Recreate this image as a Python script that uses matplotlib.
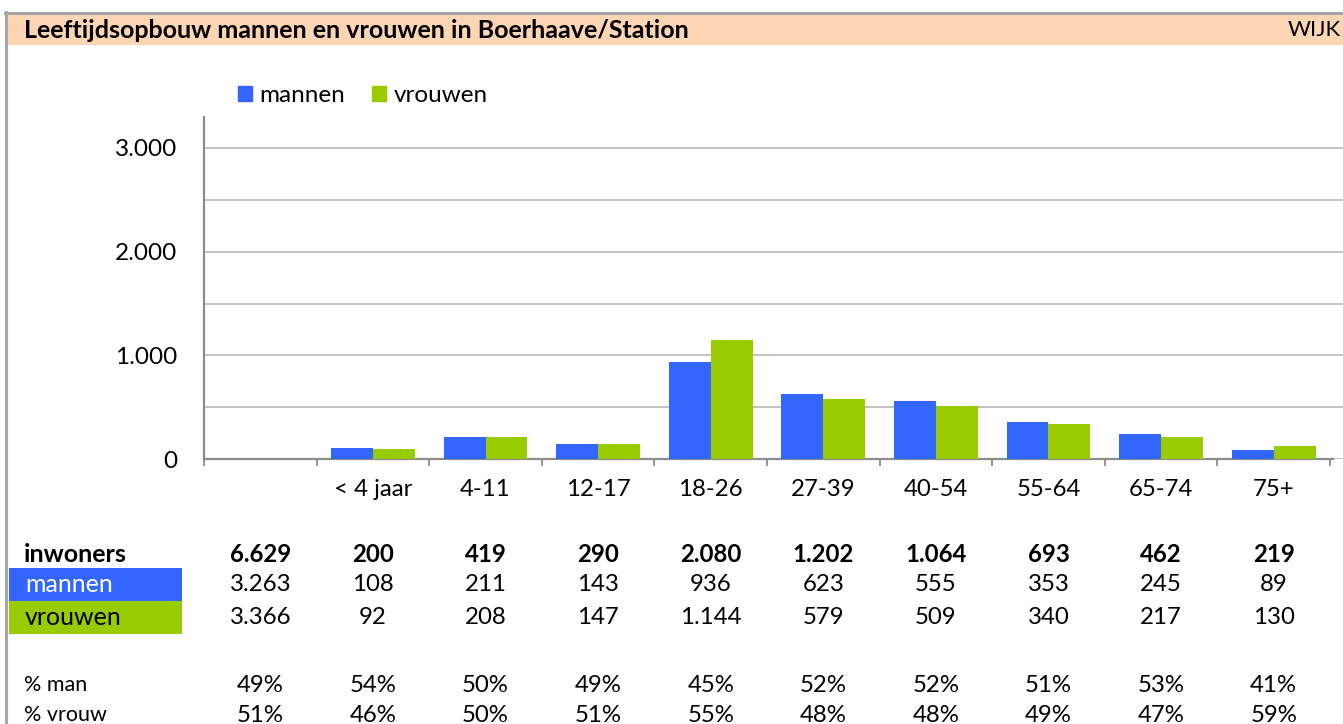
import matplotlib
matplotlib.use("Agg")
import matplotlib.pyplot as plt
import matplotlib.transforms as mtransforms
from matplotlib.patches import Rectangle
from matplotlib.lines import Line2D
from matplotlib.ticker import MultipleLocator, FixedLocator

# ---------------- data ----------------
title = "Leeftijdsopbouw mannen en vrouwen in Boerhaave/Station"
tag = "WIJK"
categories = ["", "< 4 jaar", "4-11", "12-17", "18-26", "27-39", "40-54", "55-64", "65-74", "75+"]
mannen_bars = [108, 211, 143, 936, 623, 555, 353, 245, 89]
vrouwen_bars = [92, 208, 147, 1144, 579, 509, 340, 217, 130]
inwoners = [6629, 200, 419, 290, 2080, 1202, 1064, 693, 462, 219]
mannen = [3263, 108, 211, 143, 936, 623, 555, 353, 245, 89]
vrouwen = [3366, 92, 208, 147, 1144, 579, 509, 340, 217, 130]
pct_man = [49, 54, 50, 49, 45, 52, 52, 51, 53, 41]
pct_vrouw = [51, 46, 50, 51, 55, 48, 48, 49, 47, 59]
yticks = [0, 1000, 2000, 3000]

BLUE = "#3366FF"
GREEN = "#99CC00"
PEACH = "#FCD5B4"
BORDER = "#A6A6A6"
FONT = "Lato"
FS = 17.3

W, H = 1343, 724
fig = plt.figure(figsize=(W / 100, H / 100), dpi=100)
plt.rcParams["font.family"] = FONT


def fx(px):
    return px / W


def fy(py):
    return 1 - py / H


def nl(v):
    return f"{v:,}".replace(",", ".")


# borders and title bar
fig.add_artist(Rectangle((fx(7), fy(45)), 1, fy(14) - fy(45), transform=fig.transFigure,
                         facecolor=PEACH, edgecolor="none"))
fig.add_artist(Line2D([fx(5), 1], [fy(13), fy(13)], transform=fig.transFigure, color=BORDER, lw=2.2))
fig.add_artist(Line2D([fx(6), fx(6)], [fy(12), 0], transform=fig.transFigure, color=BORDER, lw=2.2))
fig.text(fx(24), fy(30), title, fontsize=18, fontweight="bold", va="center", ha="left")
fig.text(fx(1341), fy(30), tag, fontsize=16, va="center", ha="right")

# axes
ax_l, ax_t, ax_b = 204, 117, 459
cat_w = 112.6
ax_r = W
ax = fig.add_axes([fx(ax_l), fy(ax_b), fx(ax_r - ax_l), fy(ax_t) - fy(ax_b)])
ymax = 3000 * (ax_b - ax_t) / (ax_b - 148)
ax.set_ylim(0, ymax)
ax.set_xlim(-0.5, -0.5 + (ax_r - ax_l) / cat_w)

bw = 0.372
xs = list(range(1, len(categories)))
ax.bar([x - bw / 2 for x in xs], mannen_bars, width=bw, color=BLUE, label="mannen", zorder=3)
ax.bar([x + bw / 2 for x in xs], vrouwen_bars, width=bw, color=GREEN, label="vrouwen", zorder=3)

ax.yaxis.set_major_locator(FixedLocator(yticks))
ax.yaxis.set_minor_locator(MultipleLocator(500))
ax.set_yticklabels([nl(v) for v in yticks])
ax.tick_params(axis="y", which="both", length=0, pad=19, labelsize=17.5)
ax.grid(axis="y", which="both", color="#B7B7B7", lw=1.2, zorder=0)

ax.set_xticks([i - 0.5 for i in range(len(categories) + 1)])
ax.set_xticklabels([])
ax.tick_params(axis="x", which="major", length=5, width=1.3, color="#8C8C8C", direction="out")

for side in ["top", "right"]:
    ax.spines[side].set_visible(False)
ax.spines["left"].set_color("#8C8C8C")
ax.spines["left"].set_linewidth(1.6)
ax.spines["bottom"].set_color("#8C8C8C")
ax.spines["bottom"].set_linewidth(1.6)
ax.spines["bottom"].set_bounds(-0.5, len(categories) - 0.5 + 0.03)
ax.set_facecolor("none")

bt = mtransforms.blended_transform_factory(ax.transData, fig.transFigure)
for i, c in enumerate(categories):
    ax.text(i, fy(490), c, transform=bt, fontsize=FS, ha="center", va="center", clip_on=False)

# legend
fig.legend(handles=[Rectangle((0, 0), 1, 1, color=BLUE), Rectangle((0, 0), 1, 1, color=GREEN)],
           labels=["mannen", "vrouwen"], loc="center left", bbox_to_anchor=(fx(238), fy(96)),
           ncol=2, frameon=False, fontsize=17.5, handlelength=0.58, handleheight=0.58,
           handletextpad=0.3, columnspacing=1.12, borderaxespad=0, borderpad=0)

# table
row_inw, row_m, row_v, row_pm, row_pv = 554, 584.5, 617.5, 685, 715
fig.add_artist(Rectangle((fx(9), fy(601)), fx(182 - 9), fy(568) - fy(601), transform=fig.transFigure,
                         facecolor=BLUE, edgecolor="none"))
fig.add_artist(Rectangle((fx(9), fy(634)), fx(182 - 9), fy(601) - fy(634), transform=fig.transFigure,
                         facecolor=GREEN, edgecolor="none"))
fig.text(fx(24), fy(row_inw), "inwoners", fontsize=18, fontweight="bold", va="center")
fig.text(fx(25), fy(row_m), "mannen", fontsize=18, color="white", va="center")
fig.text(fx(25), fy(row_v), "vrouwen", fontsize=18, color="black", va="center")
fig.text(fx(24), fy(row_pm), "% man", fontsize=15.5, va="center")
fig.text(fx(24), fy(row_pv), "% vrouw", fontsize=15.5, va="center")

for i in range(len(categories)):
    ax.text(i, fy(row_inw), nl(inwoners[i]), transform=bt, fontsize=FS, fontweight="bold",
            ha="center", va="center", clip_on=False)
    ax.text(i, fy(row_m), nl(mannen[i]), transform=bt, fontsize=FS, ha="center", va="center", clip_on=False)
    ax.text(i, fy(row_v), nl(vrouwen[i]), transform=bt, fontsize=FS, ha="center", va="center", clip_on=False)
    ax.text(i, fy(row_pm), f"{pct_man[i]}%", transform=bt, fontsize=FS, ha="center", va="center", clip_on=False)
    ax.text(i, fy(row_pv), f"{pct_vrouw[i]}%", transform=bt, fontsize=FS, ha="center", va="center", clip_on=False)

fig.savefig("out.png", dpi=100)
